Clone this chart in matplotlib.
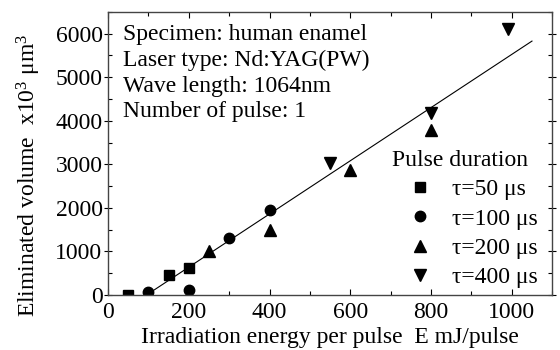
import matplotlib
matplotlib.use("Agg")
import matplotlib.pyplot as plt
from matplotlib.ticker import MultipleLocator

plt.rcParams['font.family'] = ['Liberation Serif', 'DejaVu Serif']
plt.rcParams['mathtext.fontset'] = 'custom'
plt.rcParams['mathtext.rm'] = 'Liberation Serif'
plt.rcParams['mathtext.default'] = 'regular'

# tau = 50 us
e50 = [50, 150, 200]
v50 = [0, 460, 620]
# tau = 100 us
e100 = [100, 200, 300, 400]
v100 = [60, 120, 1320, 1950]
# tau = 200 us
e200 = [250, 400, 600, 800]
v200 = [1000, 1490, 2870, 3780]
# tau = 400 us
e400 = [550, 800, 990]
v400 = [3030, 4170, 6100]
# fitted line
fit_e = [95, 1050]
fit_v = [0, 5830]

info = ["Specimen: human enamel", "Laser type: Nd:YAG(PW)",
        "Wave length: 1064nm", "Number of pulse: 1"]

fs = 17
fig = plt.figure(figsize=(5.6, 3.5), dpi=100)
ax = fig.add_axes([0.193, 0.157, 0.793, 0.809])

ax.plot(fit_e, fit_v, color='black', lw=0.8)
ms = 7.5
ax.plot(e50, v50, 's', color='black', ms=ms, label='τ=50 μs')
ax.plot(e100, v100, 'o', color='black', ms=ms, label='τ=100 μs')
ax.plot(e200, v200, '^', color='black', ms=ms + 1, label='τ=200 μs')
ax.plot(e400, v400, 'v', color='black', ms=ms + 1, label='τ=400 μs')

ax.set_xlim(0, 1100)
ax.set_ylim(0, 6500)
ax.xaxis.set_major_locator(MultipleLocator(200))
ax.xaxis.set_minor_locator(MultipleLocator(100))
ax.yaxis.set_major_locator(MultipleLocator(1000))
ax.yaxis.set_minor_locator(MultipleLocator(500))
ax.tick_params(which='both', direction='in', top=True, right=True,
               labelsize=fs, width=0.8, pad=1)
ax.tick_params(axis='x', pad=5)
ax.tick_params(which='major', length=4)
ax.tick_params(which='minor', length=3)
ax.tick_params(axis='y', which='major', direction='inout', length=6)
for s in ax.spines.values():
    s.set_linewidth(1.0)
    s.set_color('#444444')

ax.set_xlabel("Irradiation energy per pulse  E mJ/pulse", fontsize=fs, labelpad=3)
ax.set_ylabel(r"Eliminated volume  x10$^3$ μm$^3$", fontsize=fs)
ax.yaxis.set_label_coords(-0.146, 0.424)

for i, t in enumerate(info):
    ax.text(0.034, 0.92 - i * 0.091, t, transform=ax.transAxes,
            fontsize=fs, va='center', ha='left')

leg = ax.legend(loc='lower right', bbox_to_anchor=(1.0, -0.026), frameon=False,
                title="Pulse duration", fontsize=fs, title_fontsize=fs,
                handlelength=2.37, handletextpad=0.2, labelspacing=0.33,
                borderaxespad=0.2, numpoints=1)
leg._legend_box.align = "left"

fig.savefig("out.png", dpi=100)
